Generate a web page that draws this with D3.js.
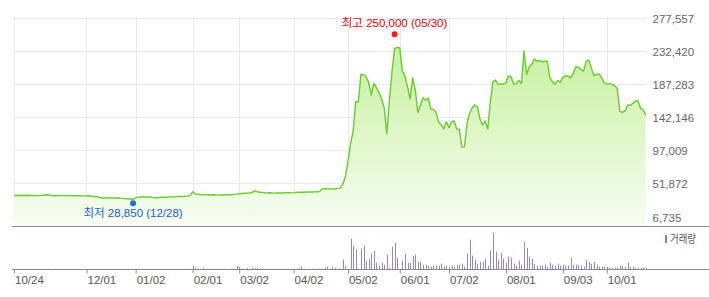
<!DOCTYPE html>
<meta charset="utf-8">
<html>
<head>
<script src="https://d3js.org/d3.v7.min.js"></script>
<style>
  body { margin: 0; background: #fff; }
  text { font-family: "Liberation Sans", Arial, "Noto Sans CJK KR", sans-serif; }
</style>
</head>
<body>
<svg id="chart" width="709" height="297"></svg>
</body>
</html>
<script>

// daily closes (won), 2017-10-24 .. 2018-10-24, one per trading day
var closes = [
  35300,35500,35400,35600,35300,35600,35400,35300,35100,35200,
  35500,35600,36000,36300,35600,35000,34900,35300,35200,35400,
  35300,35200,35100,35000,35000,34900,34800,34800,34900,34600,
  34200,33800,33600,32800,31900,32000,32100,32200,32000,31800,
  32300,31800,31400,31000,30800,30600,30200,32000,33100,33300,
  33400,33200,33400,33000,32400,32300,32400,33000,33100,33000,
  33400,33600,33500,33800,34000,34000,34200,34500,35500,40300,
  37600,37000,36600,36400,36200,36300,36000,36300,36000,35800,
  36200,36000,36300,36500,36400,36800,37200,37600,38000,38500,
  38300,38800,39500,41600,40500,39800,39400,39000,38800,39000,
  38600,38700,38900,38800,38800,39000,39200,38900,39200,39600,
  39800,39700,39800,40000,40200,40000,40300,40500,40700,44000,
  44900,44300,44500,44300,44200,45000,45300,50500,61000,81400,
  106000,123000,163000,163000,200000,200000,197000,189000,172000,188000,
  182000,175000,166600,154800,119000,165000,203700,235400,236800,236500,
  204600,198200,183300,166600,195500,178800,148500,158400,168400,165000,
  168000,153000,152500,148500,135800,131300,125900,135800,127600,135500,
  137000,125900,125600,101500,101500,133600,147200,154800,158400,155700,
  139000,131300,136700,125900,163000,190000,192400,186600,187000,187000,
  188700,198200,197000,186600,187500,192000,187800,232200,200000,210500,
  213700,220900,218200,219000,217300,218000,218000,195500,190000,186600,
  192000,189400,196000,198200,197800,195500,201500,210500,210000,207000,
  204600,218200,219600,209000,198200,200000,200800,195500,188700,187400,
  187600,186600,184800,181100,150300,148500,150300,158400,158000,160700,
  163800,164700,154000,152000,144800
];

// daily volume (relative units)
var volumes = [
  0.3,0.4,0.3,0.2,0.3,0.4,0.3,0.3,0.2,0.3,
  0.4,0.3,0.5,0.6,0.3,0.3,0.2,0.3,0.3,0.2,
  0.3,0.2,0.2,0.3,0.2,0.2,0.3,0.2,0.3,0.3,
  0.3,0.3,0.2,0.4,0.5,0.3,0.3,0.2,0.2,0.3,
  0.3,0.2,0.3,0.3,0.3,0.3,0.4,0.5,0.5,0.3,
  0.3,0.2,0.2,0.3,0.3,0.2,0.2,0.3,0.2,0.2,
  0.3,0.2,0.3,0.2,0.3,0.3,0.3,0.4,0.8,9.1,
  3.6,0.8,0.6,2.8,0.6,0.5,0.6,0.5,0.4,0.5,
  0.6,0.5,0.4,0.5,0.6,0.7,8.3,5.5,0.8,0.6,
  2.8,0.7,2.8,2.8,2.8,0.9,0.5,0.6,0.5,0.4,
  0.5,0.6,0.5,0.4,0.5,0.6,0.5,0.7,0.6,0.8,
  2.8,6.3,0.8,0.6,0.7,0.6,0.8,0.7,0.9,0.8,
  3.6,6.3,0.9,6.3,3.6,1.0,1.2,25.6,9.1,0,
  83.3,64.1,53.1,0,55.8,64.1,22.8,28.3,42.1,50.3,
  17.3,9.1,17.3,11.8,39.3,3.6,61.3,72.3,31.1,0,
  22.8,42.1,17.3,17.3,36.6,39.3,20.1,20.1,11.8,11.8,
  9.1,6.3,9.1,9.1,9.1,14.6,6.3,9.1,6.3,9.1,
  6.3,11.8,11.8,14.6,6.3,42.1,80.6,36.6,25.6,14.6,
  20.1,20.1,28.3,9.1,50.3,100,47.6,25.6,44.8,28.3,
  17.3,33.8,31.1,14.6,9.1,22.8,11.8,75.1,58.6,33.8,
  28.3,14.6,9.1,9.1,9.1,11.8,6.3,17.3,11.8,9.1,
  14.6,9.1,11.8,9.1,9.1,31.1,11.8,11.8,11.8,9.1,
  6.3,25.6,20.1,14.6,20.1,11.8,6.3,6.3,6.3,6.3,
  3.6,3.6,3.6,3.6,9.1,9.1,6.3,17.3,6.3,6.3,
  3.6,3.6,3.6,3.6,3.6
];

// date ticks: trading-day index and label
var tickIndex = [0, 28, 47, 69, 87, 108, 129, 149, 168, 190, 212, 229];
var tickLabels = ["10/24","12/01","01/02","02/01","03/02","04/02","05/02","06/01","07/02","08/01","09/03","10/01"];

// price axis ticks
var priceTicks = [6735, 51872, 97009, 142146, 187283, 232420, 277557];

// low / high markers
var lowMark = { index: 46, value: 28850, label: "최저 28,850 (12/28)" };
var highMark = { index: 147, value: 250000, label: "최고 250,000 (05/30)" };

var svg = d3.select("#chart");

var x = d3.scaleLinear().domain([0, closes.length - 1]).range([14, 645.7]);
var y = d3.scaleLinear().domain([priceTicks[0], priceTicks[priceTicks.length - 1]]).range([216.5, 17.5]);
var yv = d3.scaleLinear().domain([0, d3.max(volumes)]).range([269, 232.7]);

// gradient for the area
var grad = svg.append("defs").append("linearGradient")
  .attr("id", "areaFill")
  .attr("gradientUnits", "userSpaceOnUse")
  .attr("x1", 0).attr("x2", 0).attr("y1", 17).attr("y2", 226);
grad.append("stop").attr("offset", "0%").attr("stop-color", "#bdef90");
grad.append("stop").attr("offset", "100%").attr("stop-color", "#f8fdf4");

// horizontal grid
svg.append("g")
  .selectAll("line")
  .data(priceTicks)
  .enter()
  .append("line")
    .attr("x1", 12).attr("x2", 646)
    .attr("y1", function (d) { return Math.round(y(d)) + 0.5; })
    .attr("y2", function (d) { return Math.round(y(d)) + 0.5; })
    .attr("stroke", "#e9e9e9");

// vertical grid
svg.append("g")
  .selectAll("line")
  .data(tickIndex)
  .enter()
  .append("line")
    .attr("x1", function (d) { return Math.round(x(d)) + 0.5; })
    .attr("x2", function (d) { return Math.round(x(d)) + 0.5; })
    .attr("y1", 17).attr("y2", 226)
    .attr("stroke", "#e9e9e9");

// price area + line
svg.append("path")
  .datum(closes)
  .attr("fill", "url(#areaFill)")
  .attr("d", d3.area()
    .x(function (d, i) { return x(i); })
    .y0(226)
    .y1(function (d) { return y(d); })
  );

svg.append("path")
  .datum(closes)
  .attr("fill", "none")
  .attr("stroke", "#69cb2c")
  .attr("stroke-width", 1.4)
  .attr("stroke-linejoin", "round")
  .attr("d", d3.line()
    .x(function (d, i) { return x(i); })
    .y(function (d) { return y(d); })
  );

// separator under price panel
svg.append("line")
  .attr("x1", 12).attr("x2", 709).attr("y1", 226.5).attr("y2", 226.5)
  .attr("stroke", "#858a90");

// price labels on the right
var yAxis = svg.append("g")
  .attr("transform", "translate(647,0)")
  .call(d3.axisRight(y).tickValues(priceTicks).tickSize(0).tickPadding(5.5).tickFormat(d3.format(",")));
yAxis.select(".domain").remove();
yAxis.selectAll("text")
  .attr("dy", "0.4em")
  .attr("fill", "#666")
  .style("font-size", "11.5px");

// volume bars
svg.append("g")
  .selectAll("rect")
  .data(volumes)
  .enter()
  .append("rect")
    .attr("x", function (d, i) { return Math.round(x(i)); })
    .attr("width", 1)
    .attr("y", function (d) { return yv(d); })
    .attr("height", function (d) { return 269 - yv(d); })
    .attr("fill", "#9885c8");

// date axis
var xAxis = svg.append("g")
  .attr("transform", "translate(0,269.5)")
  .call(d3.axisBottom(x).tickValues(tickIndex).tickSize(4).tickSizeOuter(0)
    .tickFormat(function (d, i) { return tickLabels[i]; }));
xAxis.select(".domain").remove();
xAxis.selectAll(".tick line").attr("stroke", "#858a90");
xAxis.selectAll("text")
  .attr("text-anchor", "start")
  .attr("x", 0.5)
  .attr("y", 6.5)
  .attr("fill", "#555")
  .style("font-size", "11.5px");

svg.append("line")
  .attr("x1", 12).attr("x2", 709).attr("y1", 269.5).attr("y2", 269.5)
  .attr("stroke", "#858a90");

// volume legend
svg.append("rect")
  .attr("x", 665).attr("y", 235).attr("width", 2).attr("height", 8)
  .attr("fill", "#8c78c4");
svg.append("text")
  .attr("x", 670).attr("y", 243)
  .attr("fill", "#555")
  .attr("textLength", 26)
  .attr("lengthAdjust", "spacingAndGlyphs")
  .style("font-size", "11px")
  .text("거래량");

// high / low markers
svg.append("circle")
  .attr("cx", x(highMark.index)).attr("cy", y(highMark.value) - 3.5)
  .attr("r", 3).attr("fill", "#ff1a1a");
svg.append("text")
  .attr("x", x(highMark.index)).attr("y", y(highMark.value) - 10.5)
  .attr("text-anchor", "middle")
  .attr("fill", "#e6000a")
  .style("font-size", "11.5px")
  .text(highMark.label);

svg.append("circle")
  .attr("cx", x(lowMark.index)).attr("cy", y(lowMark.value) + 3)
  .attr("r", 3).attr("fill", "#1f6fd6");
svg.append("text")
  .attr("x", x(lowMark.index)).attr("y", y(lowMark.value) + 17)
  .attr("text-anchor", "middle")
  .attr("fill", "#1a5fc8")
  .style("font-size", "11.5px")
  .text(lowMark.label);

</script>
